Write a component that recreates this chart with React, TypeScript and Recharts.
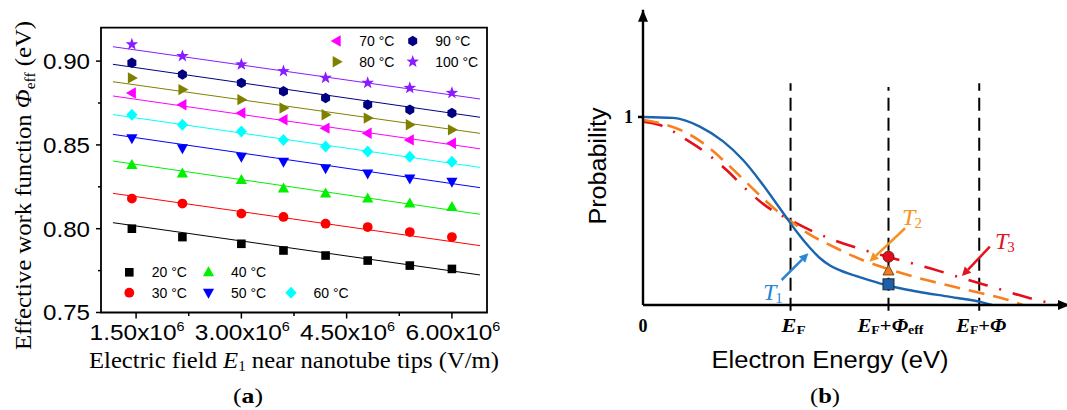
import React from 'react';
import {
  ScatterChart,
  ComposedChart,
  Scatter,
  Line,
  XAxis,
  YAxis,
  ReferenceArea,
  ReferenceLine,
  ReferenceDot,
} from 'recharts';

const SANS = '"Liberation Sans", Arial, sans-serif';
const SERIF = '"Liberation Serif", "Times New Roman", serif';

// ---------- panel (a): effective work function vs field ----------
const fieldE = [1.44e6, 2.16e6, 3.0e6, 3.6e6, 4.2e6, 4.8e6, 5.4e6, 6.0e6];
const phi20 = [0.8, 0.795, 0.791, 0.787, 0.784, 0.781, 0.778, 0.776];
const phi30 = [0.818, 0.815, 0.809, 0.807, 0.803, 0.801, 0.798, 0.795];
const phi40 = [0.838, 0.833, 0.829, 0.824, 0.821, 0.818, 0.815, 0.813];
const phi50 = [0.854, 0.848, 0.843, 0.84, 0.836, 0.833, 0.83, 0.828];
const phi60 = [0.868, 0.862, 0.858, 0.853, 0.849, 0.846, 0.843, 0.84];
const phi70 = [0.881, 0.874, 0.869, 0.865, 0.86, 0.857, 0.853, 0.851];
const phi80 = [0.89, 0.883, 0.877, 0.872, 0.868, 0.866, 0.862, 0.859];
const phi90 = [0.899, 0.892, 0.887, 0.882, 0.878, 0.874, 0.871, 0.869];
const phi100 = [0.91, 0.903, 0.898, 0.894, 0.89, 0.887, 0.884, 0.881];

// fitted lines (two end points each)
const fitE = [1.17e6, 6.4e6];
const fit20 = [0.8036, 0.7724];
const fit30 = [0.8211, 0.7899];
const fit40 = [0.8404, 0.8086];
const fit50 = [0.8563, 0.8245];
const fit60 = [0.8681, 0.8366];
const fit70 = [0.8792, 0.8477];
const fit80 = [0.8877, 0.8569];
const fit90 = [0.8981, 0.8665];
const fit100 = [0.9086, 0.8774];

const ticksE = [1.5e6, 2.25e6, 3e6, 3.75e6, 4.5e6, 5.25e6, 6e6];
const ticksPhi = [0.75, 0.775, 0.8, 0.825, 0.85, 0.875, 0.9];

const seriesA = [
  { name: '20 °C', pts: phi20, fit: fit20, color: '#000000', kind: 'square' },
  { name: '30 °C', pts: phi30, fit: fit30, color: '#ff0000', kind: 'circle' },
  { name: '40 °C', pts: phi40, fit: fit40, color: '#00f000', kind: 'up' },
  { name: '50 °C', pts: phi50, fit: fit50, color: '#0000ff', kind: 'down' },
  { name: '60 °C', pts: phi60, fit: fit60, color: '#00ffff', kind: 'diamond' },
  { name: '70 °C', pts: phi70, fit: fit70, color: '#ff00ff', kind: 'left' },
  { name: '80 °C', pts: phi80, fit: fit80, color: '#808000', kind: 'right' },
  { name: '90 °C', pts: phi90, fit: fit90, color: '#000080', kind: 'hex' },
  { name: '100 °C', pts: phi100, fit: fit100, color: '#8a1cff', kind: 'star' },
];

// ---------- panel (b): schematic occupation probability ----------
const blueE = [0, 0.71, 1.34, 1.89, 2.36, 2.76, 3.07, 3.4, 3.63, 3.94, 4.17, 4.41, 4.65, 5.0, 5.35, 5.75, 6.46, 7.24, 8.02, 8.23];
const blueP = [1.0, 0.995, 0.949, 0.87, 0.771, 0.66, 0.564, 0.46, 0.388, 0.303, 0.25, 0.21, 0.184, 0.156, 0.131, 0.105, 0.072, 0.043, 0.013, 0];
const orangeE = [0, 0.4, 0.87, 1.34, 1.82, 2.29, 2.76, 3.15, 3.47, 3.86, 4.49, 5.2, 5.76, 6.46, 7.24, 8.03, 8.6, 8.96];
const orangeP = [0.984, 0.967, 0.932, 0.873, 0.785, 0.685, 0.582, 0.503, 0.448, 0.385, 0.31, 0.237, 0.193, 0.146, 0.102, 0.06, 0.028, 0];
const redE = [0, 0.4, 1.03, 1.5, 1.97, 2.45, 2.92, 3.47, 4.02, 4.49, 5.2, 5.76, 6.77, 7.55, 8.34, 9.13, 9.76, 9.88];
const redP = [0.975, 0.957, 0.878, 0.807, 0.718, 0.612, 0.523, 0.452, 0.39, 0.346, 0.293, 0.257, 0.195, 0.142, 0.089, 0.036, 0.004, 0];

const energyTicks = [0, 3.48, 5.79, 7.93];
const markerE = 5.79;
const markerT3 = 0.257;
const markerT2 = 0.181;
const markerT1 = 0.11;

const BLUE = '#1b64b0';
const ORANGE = '#f7801f';
const RED = '#e3101b';

const toPts = (xs: number[], ys: number[]) => xs.map((x, i) => ({ x, y: ys[i] }));

function Mark({ kind, cx, cy, color }: any) {
  switch (kind) {
    case 'square':
      return <rect x={cx - 4.3} y={cy - 4.3} width={8.6} height={8.6} fill={color} />;
    case 'circle':
      return <circle cx={cx} cy={cy} r={4.9} fill={color} />;
    case 'up':
      return <polygon points={`${cx},${cy - 6} ${cx - 5.6},${cy + 4} ${cx + 5.6},${cy + 4}`} fill={color} />;
    case 'down':
      return <polygon points={`${cx},${cy + 6} ${cx - 5.6},${cy - 4} ${cx + 5.6},${cy - 4}`} fill={color} />;
    case 'diamond':
      return <polygon points={`${cx},${cy - 6} ${cx + 5.6},${cy} ${cx},${cy + 6} ${cx - 5.6},${cy}`} fill={color} />;
    case 'left':
      return <polygon points={`${cx - 6},${cy} ${cx + 4},${cy - 5.7} ${cx + 4},${cy + 5.7}`} fill={color} />;
    case 'right':
      return <polygon points={`${cx + 6},${cy} ${cx - 4},${cy - 5.7} ${cx - 4},${cy + 5.7}`} fill={color} />;
    case 'hex': {
      const p = [0, 1, 2, 3, 4, 5]
        .map((k) => {
          const a = (Math.PI / 3) * k - Math.PI / 2;
          return `${cx + 5.2 * Math.cos(a)},${cy + 5.2 * Math.sin(a)}`;
        })
        .join(' ');
      return <polygon points={p} fill={color} />;
    }
    case 'star': {
      const p = Array.from({ length: 10 })
        .map((_, k) => {
          const a = (Math.PI / 5) * k - Math.PI / 2;
          const r = k % 2 === 0 ? 6.6 : 2.7;
          return `${cx + r * Math.cos(a)},${cy + r * Math.sin(a)}`;
        })
        .join(' ');
      return <polygon points={p} fill={color} />;
    }
    default:
      return null;
  }
}

const XTickA = (p: any) => {
  const v = p.payload.value;
  const major = Math.abs(v / 1.5e6 - Math.round(v / 1.5e6)) < 1e-6;
  return (
    <g>
      <line x1={p.x} x2={p.x} y1={p.y} y2={p.y + (major ? 6 : 3.5)} stroke="#000" strokeWidth={1.5} />
      {major && (
        <text x={p.x + 1} y={p.y + 27.5} textAnchor="middle" fontFamily={SANS} fontSize={22}
          textLength={95} lengthAdjust="spacingAndGlyphs" fill="#000">
          {(v / 1e6).toFixed(2)}x10<tspan fontSize={13} dy={-9}>6</tspan>
        </text>
      )}
    </g>
  );
};

const YTickA = (p: any) => {
  const v = p.payload.value;
  const major = Math.round(v * 1000) % 50 === 0;
  return (
    <g>
      <line x1={p.x - (major ? 5 : 3)} x2={p.x} y1={p.y} y2={p.y} stroke="#000" strokeWidth={1.5} />
      {major && (
        <text x={p.x - 11} y={p.y + 7.8} textAnchor="end" fontFamily={SANS} fontSize={22}
          textLength={47} lengthAdjust="spacingAndGlyphs" fill="#000">
          {v.toFixed(2)}
        </text>
      )}
    </g>
  );
};

const EnergyTick = (p: any) => {
  const i = energyTicks.indexOf(p.payload.value);
  const y = p.y + 26.5;
  const common = { y, textAnchor: 'middle' as const, fontFamily: SERIF, fontWeight: 'bold', fontSize: 18, fill: '#000' };
  if (i === 0) return <text x={p.x} {...common}>0</text>;
  if (i === 1)
    return (
      <text x={p.x + 3} {...common} textLength={24} lengthAdjust="spacingAndGlyphs">
        <tspan fontStyle="italic">E</tspan><tspan fontSize={12} dy={2}>F</tspan>
      </text>
    );
  if (i === 2)
    return (
      <text x={p.x + 2} {...common} textLength={66} lengthAdjust="spacingAndGlyphs">
        <tspan fontStyle="italic">E</tspan><tspan fontSize={12} dy={2}>F</tspan>
        <tspan dy={-2}>+</tspan><tspan fontStyle="italic">Φ</tspan>
        <tspan fontSize={12} dy={2}>eff</tspan>
      </text>
    );
  return (
    <text x={p.x + 2} {...common} textLength={50} lengthAdjust="spacingAndGlyphs">
      <tspan fontStyle="italic">E</tspan><tspan fontSize={12} dy={2}>F</tspan>
      <tspan dy={-2}>+</tspan><tspan fontStyle="italic">Φ</tspan>
    </text>
  );
};

const ProbTick = (p: any) => (
  <g>
    <line x1={p.x - 5} x2={p.x} y1={p.y} y2={p.y} stroke="#000" strokeWidth={2.5} />
    <text x={p.x - 10} y={p.y + 6} textAnchor="end" fontFamily={SERIF} fontWeight="bold" fontSize={18} fill="#000">1</text>
  </g>
);

const arrowShape = (color: string) => (p: any) => {
  const { x1, y1, x2, y2 } = p;
  const a = Math.atan2(y2 - y1, x2 - x1);
  const L = 9;
  const W = 4.5;
  const bx = x2 - L * Math.cos(a);
  const by = y2 - L * Math.sin(a);
  const nx = -Math.sin(a) * W;
  const ny = Math.cos(a) * W;
  return (
    <g>
      <line x1={x1} y1={y1} x2={bx} y2={by} stroke={color} strokeWidth={2.5} />
      <polygon points={`${x2},${y2} ${bx + nx},${by + ny} ${bx - nx},${by - ny}`} fill={color} />
    </g>
  );
};

const tLabel = (sub: string, color: string) => (p: any) => (
  <text x={p.cx} y={p.cy} fontFamily={SERIF} fontStyle="italic" fontSize={24} fill={color}>
    T<tspan fontSize={15} fontStyle="normal" dx={-1} dy={3}>{sub}</tspan>
  </text>
);

function PanelA() {
  return (
    <ScatterChart width={500} height={410} margin={{ top: 27.6, right: 13, bottom: 0, left: 0 }}>
      <XAxis type="number" dataKey="x" domain={[1e6, 6.5e6]} allowDataOverflow ticks={ticksE} interval={0}
        tickSize={0} tickMargin={0} height={97.5} axisLine={false} tick={XTickA} />
      <YAxis type="number" dataKey="y" domain={[0.75, 0.92]} allowDataOverflow ticks={ticksPhi} interval={0}
        tickSize={0} tickMargin={0} width={101} axisLine={false} tick={YTickA} />
      {seriesA.map((s) => (
        <Scatter key={'f' + s.name} data={toPts(fitE, s.fit)} fill={s.color}
          line={{ stroke: s.color, strokeWidth: 1 }} shape={() => <g />} isAnimationActive={false} />
      ))}
      {seriesA.map((s) => (
        <Scatter key={s.name} name={s.name} data={toPts(fieldE, s.pts)} fill={s.color}
          shape={(p: any) => <Mark kind={s.kind} cx={p.cx} cy={p.cy} color={s.color} />} isAnimationActive={false} />
      ))}
      <ReferenceArea x1={1e6} x2={6.5e6} y1={0.75} y2={0.92} fill="none" fillOpacity={0}
        stroke="#000" strokeWidth={1.8} ifOverflow="visible" />
    </ScatterChart>
  );
}

function PanelB() {
  return (
    <ComposedChart width={507} height={410} margin={{ top: 9.8, right: 0, bottom: 0, left: 0 }}>
      <XAxis type="number" dataKey="x" domain={[0, 10]} allowDataOverflow ticks={energyTicks} interval={0}
        tickSize={0} tickMargin={0} height={105} axisLine={{ stroke: '#000', strokeWidth: 2.4 }} tick={EnergyTick} />
      <YAxis type="number" dataKey="y" domain={[0, 1.57]} allowDataOverflow ticks={[1]} interval={0}
        tickSize={0} tickMargin={0} width={83} axisLine={{ stroke: '#000', strokeWidth: 2.4 }} tick={ProbTick} />
      {energyTicks.slice(1).map((e, i) => (
        <ReferenceLine key={e} segment={[{ x: e, y: -0.03 }, { x: e, y: i === 1 ? 1.16 : 1.18 }]}
          stroke="#000" strokeWidth={2} strokeDasharray="13 7" ifOverflow="visible" />
      ))}
      <Line data={toPts(redE, redP)} dataKey="y" type="monotone" stroke={RED} strokeWidth={2.6}
        strokeDasharray="20 12 2 12" dot={false} isAnimationActive={false} />
      <Line data={toPts(orangeE, orangeP)} dataKey="y" type="monotone" stroke={ORANGE} strokeWidth={2.6}
        strokeDasharray="16 9" dot={false} isAnimationActive={false} />
      <Line data={toPts(blueE, blueP)} dataKey="y" type="monotone" stroke={BLUE} strokeWidth={2.4}
        dot={false} isAnimationActive={false} />
      <Scatter data={[{ x: markerE, y: markerT3 }]} isAnimationActive={false}
        shape={(p: any) => <circle cx={p.cx} cy={p.cy} r={5.5} fill="#e0101a" stroke="#7a1010" strokeWidth={1} />} />
      <Scatter data={[{ x: markerE, y: markerT2 }]} isAnimationActive={false}
        shape={(p: any) => (
          <polygon points={`${p.cx},${p.cy - 6} ${p.cx - 5.5},${p.cy + 4} ${p.cx + 5.5},${p.cy + 4}`}
            fill="#f07d1a" stroke="#7a4a1a" strokeWidth={1} />
        )} />
      <Scatter data={[{ x: markerE, y: markerT1 }]} isAnimationActive={false}
        shape={(p: any) => <rect x={p.cx - 5.5} y={p.cy - 5.5} width={11} height={11} fill="#1f5fa8" stroke="#1a2a40" strokeWidth={1} />} />
      <ReferenceLine segment={[{ x: 3.27, y: 0.133 }, { x: 3.9, y: 0.275 }]} shape={arrowShape('#2a86d6')} ifOverflow="visible" />
      <ReferenceLine segment={[{ x: 6.18, y: 0.408 }, { x: 5.34, y: 0.23 }]} shape={arrowShape('#f39322')} ifOverflow="visible" />
      <ReferenceLine segment={[{ x: 8.18, y: 0.31 }, { x: 7.52, y: 0.154 }]} shape={arrowShape('#e3141e')} ifOverflow="visible" />
      <ReferenceDot x={2.83} y={0.027} r={0} shape={tLabel('1', '#2a86d6')} ifOverflow="visible" />
      <ReferenceDot x={6.11} y={0.426} r={0} shape={tLabel('2', '#f39322')} ifOverflow="visible" />
      <ReferenceDot x={8.3} y={0.298} r={0} shape={tLabel('3', '#e3141e')} ifOverflow="visible" />
      <ReferenceDot x={0} y={1.57} r={0} ifOverflow="visible"
        shape={(p: any) => <polygon points={`${p.cx},${p.cy} ${p.cx - 5},${p.cy + 12} ${p.cx + 5},${p.cy + 12}`} fill="#000" />} />
      <ReferenceDot x={10} y={0} r={0} ifOverflow="visible"
        shape={(p: any) => <polygon points={`${p.cx + 3},${p.cy} ${p.cx - 9},${p.cy - 5} ${p.cx - 9},${p.cy + 5}`} fill="#000" />} />
    </ComposedChart>
  );
}

function LegendItem({ x, y, kind, color, label }: any) {
  return (
    <g>
      <Mark kind={kind} cx={x} cy={y} color={color} />
      <text x={x + 22.5} y={y + 5} fontFamily={SANS} fontSize={14} fill="#000">{label}</text>
    </g>
  );
}

function Overlay() {
  const byName = (n: string) => seriesA.find((s) => s.name === n)!;
  const item = (n: string, x: number, y: number) => {
    const s = byName(n);
    return <LegendItem key={n} x={x} y={y} kind={s.kind} color={s.color} label={s.name} />;
  };
  return (
    <svg width={1067} height={410} style={{ position: 'absolute', left: 0, top: 0, pointerEvents: 'none' }}>
      {item('70 °C', 336.7, 41)}
      {item('90 °C', 412.7, 41)}
      {item('80 °C', 336.7, 61.7)}
      {item('100 °C', 412.7, 61.7)}
      {item('20 °C', 129.3, 272.3)}
      {item('40 °C', 208.5, 272.3)}
      {item('30 °C', 129.3, 292.7)}
      {item('50 °C', 208.5, 292.7)}
      {item('60 °C', 291, 292.7)}

      <text transform="translate(31,185.5) rotate(-90)" textAnchor="middle" fontFamily={SERIF} fontSize={24}
        textLength={329} lengthAdjust="spacingAndGlyphs" fill="#000">
        Effective work function <tspan fontStyle="italic">Φ</tspan>
        <tspan fontSize={15} dy={4}>eff</tspan><tspan dy={-4}> (eV)</tspan>
      </text>
      <text x={294} y={368} textAnchor="middle" fontFamily={SERIF} fontSize={23}
        textLength={410} lengthAdjust="spacingAndGlyphs" fill="#000">
        Electric field <tspan fontStyle="italic">E</tspan><tspan fontSize={14} dy={3}>1</tspan>
        <tspan dy={-3}> near nanotube tips (V/m)</tspan>
      </text>
      <text x={248} y={403} textAnchor="middle" fontFamily={SERIF} fontSize={22}
        textLength={30} lengthAdjust="spacingAndGlyphs" fill="#000">
        (<tspan fontWeight="bold">a</tspan>)
      </text>

      <text x={830} y={368} textAnchor="middle" fontFamily={SANS} fontSize={23}
        textLength={237} lengthAdjust="spacingAndGlyphs" fill="#000">
        Electron Energy (eV)
      </text>
      <text transform="translate(606,166) rotate(-90)" textAnchor="middle" fontFamily={SANS} fontSize={23}
        textLength={117} lengthAdjust="spacingAndGlyphs" fill="#000">
        Probability
      </text>
      <text x={825} y={403} textAnchor="middle" fontFamily={SERIF} fontSize={22}
        textLength={30} lengthAdjust="spacingAndGlyphs" fill="#000">
        (<tspan fontWeight="bold">b</tspan>)
      </text>
    </svg>
  );
}

export default function App() {
  return (
    <div style={{ position: 'fixed', left: 0, top: 0, width: 1067, height: 410, background: '#fff', overflow: 'hidden' }}>
      <div style={{ position: 'absolute', left: 0, top: 0 }}>
        <PanelA />
      </div>
      <div style={{ position: 'absolute', left: 560, top: 0 }}>
        <PanelB />
      </div>
      <Overlay />
    </div>
  );
}
